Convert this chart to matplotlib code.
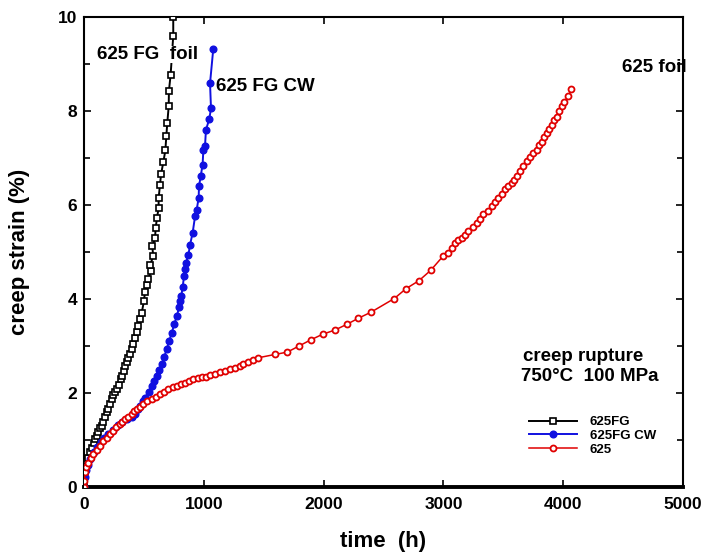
import matplotlib
matplotlib.use("Agg")
import matplotlib.pyplot as plt
from matplotlib.ticker import MultipleLocator

# 625FG foil (open squares)
fg_time = [0, 3, 8, 15, 25, 35, 50, 65, 80, 92, 105, 120, 135, 148, 160, 175,
           189, 200, 215, 231, 245, 260, 273, 290, 305, 314, 330, 345, 356, 370,
           385, 398, 412, 426, 440, 453, 468, 482, 500, 509, 528, 537, 558, 553,
           578, 570, 593, 598, 609, 623, 623, 634, 643, 662, 679, 687, 695, 707,
           709, 723, 745, 745]
fg_strain = [0, 0.2, 0.35, 0.45, 0.55, 0.62, 0.74, 0.84, 0.94, 1.02, 1.09, 1.17,
             1.26, 1.30, 1.38, 1.48, 1.59, 1.65, 1.76, 1.87, 1.95, 2.02, 2.08,
             2.18, 2.29, 2.36, 2.46, 2.57, 2.65, 2.74, 2.84, 2.93, 3.04, 3.18,
             3.30, 3.42, 3.57, 3.71, 3.95, 4.15, 4.29, 4.43, 4.59, 4.73, 4.91,
             5.12, 5.29, 5.51, 5.72, 5.94, 6.15, 6.42, 6.65, 6.91, 7.16, 7.46,
             7.74, 8.10, 8.43, 8.77, 9.60, 10.0]

# 625FG CW (filled circles)
cw_time = [0, 5, 15, 30, 50, 80, 110, 140, 170, 200, 240, 280, 320, 360, 400,
           426, 450, 467, 490, 509, 540, 565, 585, 607, 630, 649, 670, 690, 710,
           732, 755, 774, 795, 805, 812, 824, 835, 843, 851, 871, 885, 907, 927,
           940, 957, 960, 974, 990, 996, 1010, 1018, 1046, 1060, 1052, 1079]
cw_strain = [0, 0.22, 0.36, 0.47, 0.59, 0.74, 0.86, 0.95, 1.04, 1.13, 1.22,
             1.31, 1.39, 1.45, 1.50, 1.55, 1.66, 1.73, 1.82, 1.90, 2.03, 2.15,
             2.25, 2.36, 2.48, 2.61, 2.77, 2.93, 3.10, 3.28, 3.47, 3.64, 3.82,
             3.95, 4.06, 4.26, 4.49, 4.63, 4.77, 4.93, 5.15, 5.41, 5.76, 5.89,
             6.15, 6.40, 6.61, 6.86, 7.16, 7.25, 7.60, 7.83, 8.06, 8.59, 9.32]

# 625 foil (open circles)
std_time = [0, 3, 8, 20, 36, 55, 78, 105, 134, 160, 189, 215, 245, 270, 300,
            320, 342, 370, 398, 420, 439, 465, 495, 530, 565, 600, 634, 670,
            704, 740, 774, 810, 843, 880, 912, 950, 982, 1015, 1052, 1090, 1135,
            1175, 1219, 1260, 1302, 1330, 1371, 1413, 1455, 1594, 1697, 1795,
            1892, 1992, 2095, 2193, 2290, 2396, 2590, 2688, 2796, 2894, 3000,
            3041, 3070, 3097, 3125, 3152, 3180, 3208, 3245, 3278, 3305, 3333,
            3370, 3403, 3430, 3458, 3490, 3514, 3540, 3570, 3590, 3611, 3640,
            3667, 3695, 3723, 3750, 3778, 3800, 3820, 3840, 3862, 3885, 3904,
            3925, 3946, 3965, 3987, 4010, 4043, 4065]
std_strain = [0, 0.13, 0.31, 0.42, 0.52, 0.61, 0.70, 0.79, 0.88, 0.97, 1.05,
              1.13, 1.20, 1.27, 1.34, 1.39, 1.44, 1.50, 1.55, 1.61, 1.66, 1.71,
              1.76, 1.82, 1.87, 1.92, 1.97, 2.03, 2.08, 2.12, 2.15, 2.19, 2.22,
              2.26, 2.29, 2.31, 2.33, 2.35, 2.38, 2.41, 2.44, 2.47, 2.51, 2.54,
              2.58, 2.61, 2.65, 2.70, 2.75, 2.82, 2.87, 3.00, 3.13, 3.25, 3.34,
              3.46, 3.59, 3.72, 4.01, 4.22, 4.39, 4.61, 4.92, 4.98, 5.08, 5.20,
              5.25, 5.30, 5.37, 5.44, 5.53, 5.62, 5.71, 5.80, 5.88, 5.97, 6.06,
              6.15, 6.24, 6.33, 6.40, 6.47, 6.54, 6.61, 6.72, 6.82, 6.93, 7.03,
              7.10, 7.18, 7.27, 7.35, 7.44, 7.53, 7.62, 7.71, 7.80, 7.88, 7.99,
              8.10, 8.20, 8.31, 8.47]

FONT = "Liberation Sans"
plt.rcParams["font.family"] = [FONT, "DejaVu Sans"]
plt.rcParams["font.weight"] = "bold"

fig = plt.figure(figsize=(7.05, 5.57), dpi=100)
ax = fig.add_axes([84 / 705, 1 - 487 / 557, 599 / 705, 470 / 557])

ax.plot(fg_time, fg_strain, color="black", lw=1.4, marker="s", ms=4.2,
        mfc="white", mec="black", mew=1.2, label="625FG", zorder=3)
ax.plot(cw_time, cw_strain, color="#1010e0", lw=1.4, marker="o", ms=4.8,
        mfc="#1010e0", mec="#1010e0", label="625FG CW", zorder=3)
ax.plot(std_time, std_strain, color="#e00000", lw=1.1, marker="o", ms=4.3,
        mfc="white", mec="#e00000", mew=1.3, label="625", zorder=4)

ax.set_xlim(0, 5000)
ax.set_ylim(0, 10)
ax.xaxis.set_major_locator(MultipleLocator(1000))
ax.yaxis.set_major_locator(MultipleLocator(2))
ax.yaxis.set_minor_locator(MultipleLocator(1))
ax.tick_params(which="both", direction="in", top=True, right=True,
               labelsize=12.5, width=1.2)
ax.tick_params(which="major", length=5)
ax.tick_params(which="minor", length=4)
ax.tick_params(axis="x", pad=7)
ax.tick_params(axis="y", pad=5)
for lab in ax.get_xticklabels() + ax.get_yticklabels():
    lab.set_fontweight("bold")

for side in ["left", "top", "right"]:
    ax.spines[side].set_linewidth(1.5)
ax.spines["bottom"].set_linewidth(2.8)

ax.set_xlabel("time  (h)", fontsize=16, fontweight="bold", labelpad=14)
ax.set_ylabel("creep strain (%)", fontsize=16, fontweight="bold", labelpad=20)

txt = dict(fontsize=13.5, fontweight="bold", va="center", ha="left")
ax.text(108, 9.21, "625 FG  foil", zorder=5,
        bbox=dict(facecolor="white", edgecolor="none", pad=0), **txt)
ax.text(1102, 8.53, "625 FG CW", zorder=5, **txt)
ax.text(4491, 8.92, "625 foil", zorder=5, **txt)
ax.text(3664, 2.78, "creep rupture", zorder=5, **txt)
ax.text(3650, 2.36, "750°C  100 MPa", zorder=5, **txt)

ax.legend(loc="upper left", bbox_to_anchor=(529 / 705, 1 - 416 / 557),
          bbox_transform=fig.transFigure, frameon=False, numpoints=1,
          handlelength=3.6, handletextpad=1.0,
          labelspacing=0.12, borderpad=0, borderaxespad=0,
          prop=dict(family=FONT, weight="bold", size=9.5))

fig.savefig("out.png", dpi=100)
